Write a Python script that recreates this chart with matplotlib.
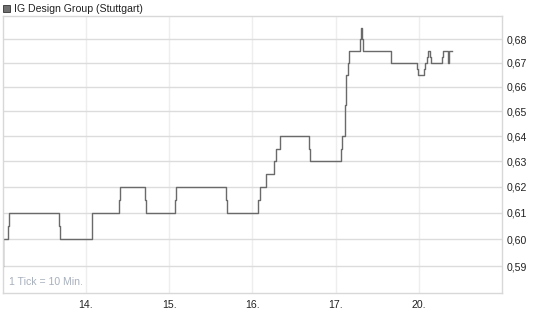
### IG DESIGN GROUP INTRADAY CHART (STUTTGART)

import matplotlib
matplotlib.use('Agg')
import matplotlib.pyplot as plt
import matplotlib.ticker as mticker
import numpy as num

plt.rcParams['font.family'] = ['Liberation Sans', 'DejaVu Sans']

title = 'IG Design Group (Stuttgart)'
day_labels = ['14.', '15.', '16.', '17.', '20.']
price_ticks = [0.59, 0.60, 0.61, 0.62, 0.63, 0.64, 0.65, 0.66, 0.67, 0.68]

# time in trading-day units (0 = start of 13.), price in EUR
t = [0.000, 0.004, 0.064, 0.079, 0.679, 0.691, 1.071, 1.079, 1.393, 1.405,
     1.712, 1.724, 2.073, 2.080, 2.678, 2.690, 3.071, 3.088, 3.160, 3.262,
     3.279, 3.333, 3.679, 3.695, 4.071, 4.083, 4.115, 4.131, 4.145, 4.160,
     4.298, 4.306, 4.318, 4.330, 4.667, 4.976, 4.988, 5.067, 5.079, 5.099,
     5.116, 5.132, 5.149, 5.273, 5.285, 5.347, 5.368, 5.397]
price = [0.590, 0.600, 0.605, 0.610, 0.605, 0.600, 0.605, 0.610, 0.615, 0.620,
         0.615, 0.610, 0.615, 0.620, 0.615, 0.610, 0.615, 0.620, 0.625, 0.630,
         0.635, 0.640, 0.635, 0.630, 0.635, 0.640, 0.6525, 0.665, 0.670, 0.675,
         0.680, 0.685, 0.680, 0.675, 0.670, 0.6675, 0.665, 0.6675, 0.670, 0.6725,
         0.675, 0.6725, 0.670, 0.6725, 0.675, 0.670, 0.675, 0.675]

fig = plt.figure(figsize=(5.45, 3.27), dpi=100)
ax = fig.add_axes([2.7/545, 1-293.3/327, (502-2.7)/545, (293.3-16)/327])

ax.step(num.array(t), num.array(price), where='post', color='#6a6a6a', lw=1.0)

ax.set_yscale('log')
ax.set_ylim(0.58, 0.69)
ax.set_xlim(0, 6)

ax.yaxis.set_major_locator(mticker.FixedLocator(price_ticks))
ax.yaxis.set_minor_locator(mticker.NullLocator())
ax.set_yticklabels([f'{p:.2f}'.replace('.', ',') for p in price_ticks])
ax.yaxis.tick_right()
ax.set_xticks(range(1, len(day_labels)+1))
ax.set_xticklabels(day_labels)
ax.tick_params(axis='both', length=0, labelsize=7.6, colors='#222222')
ax.tick_params(axis='y', pad=3.5)
ax.tick_params(axis='x', pad=5)

ax.grid(True, axis='y', color='#dcdcdc', lw=1.0)
ax.grid(True, axis='x', color='#eeeeee', lw=1.0)
ax.set_axisbelow(True)
for s in ax.spines.values():
    s.set_color('#d8d8d8')
    s.set_linewidth(1.0)

ax.text(0.012, 0.022, '1 Tick = 10 Min.', transform=ax.transAxes,
        fontsize=7.6, color='#a8b0bc', ha='left', va='bottom')

# legend square + title
fig.patches.append(plt.Rectangle((3/545, 1-12/327), 7/545, 7/327, transform=fig.transFigure,
                                 facecolor='#707070', edgecolor='#333333', lw=0.6))
fig.text(13.5/545, 1-8.5/327, title, fontsize=7.6, color='#222222', ha='left', va='center')

plt.savefig('out.png', dpi=100)
plt.close()
